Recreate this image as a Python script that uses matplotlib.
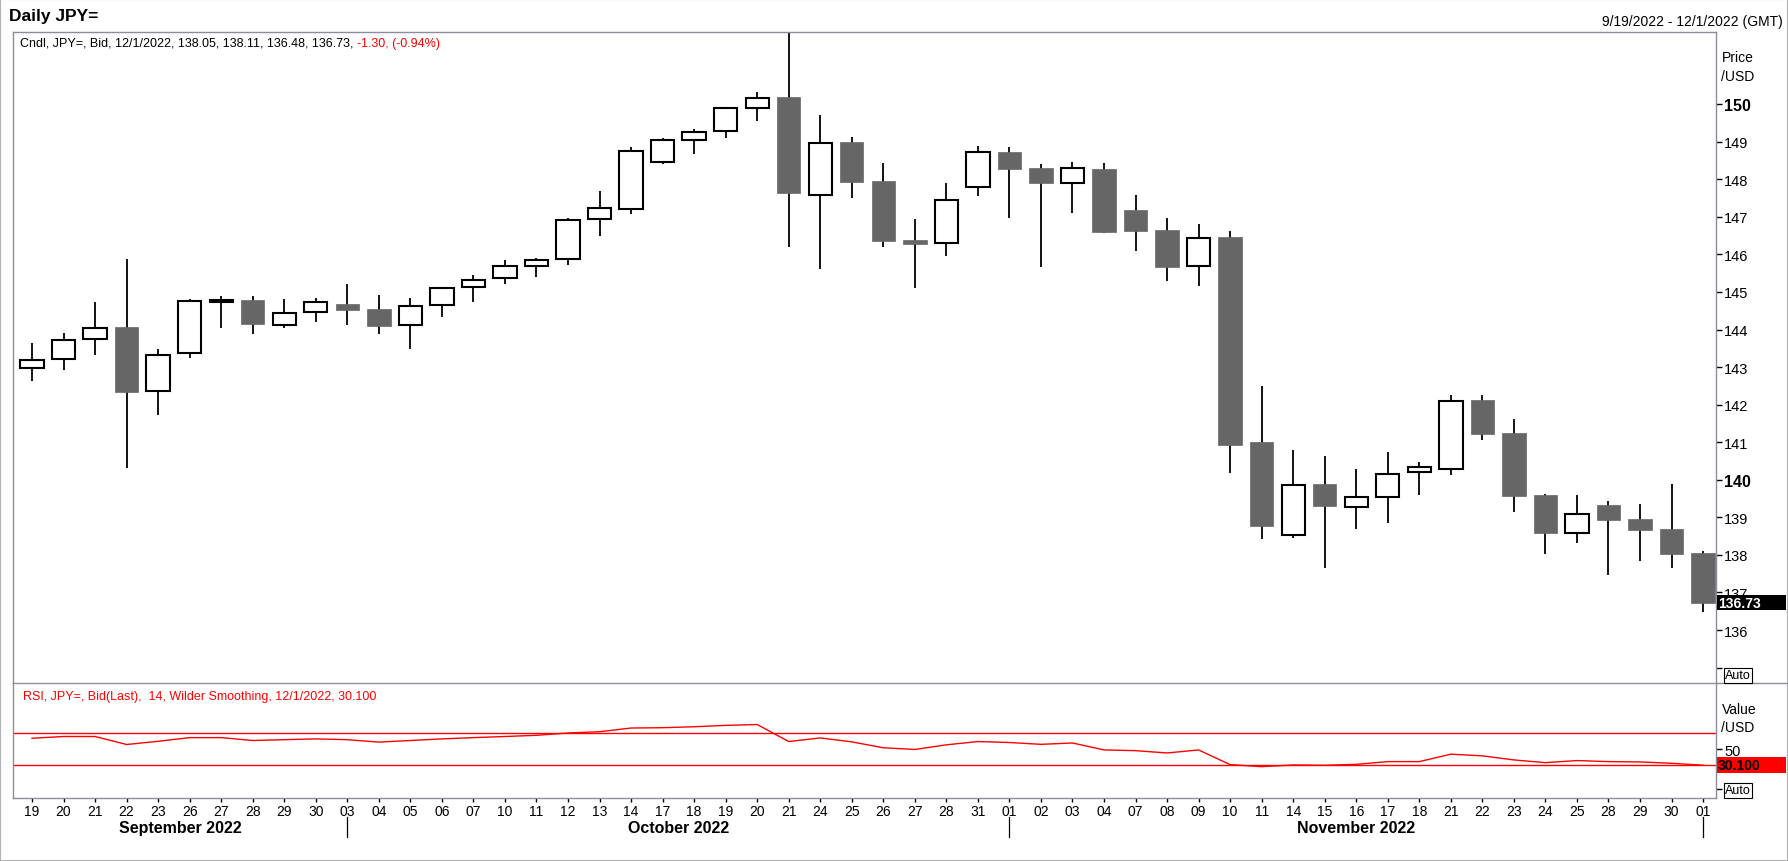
import matplotlib
matplotlib.use("Agg")
import numpy as np
import pandas as pd
import matplotlib.pyplot as plt
from matplotlib import transforms
from matplotlib.patches import Rectangle
from matplotlib.lines import Line2D

plt.rcParams['font.family'] = ['Liberation Sans', 'DejaVu Sans']

# ---------------- data ----------------
dates = ['2022-09-19', '2022-09-20', '2022-09-21', '2022-09-22', '2022-09-23',
         '2022-09-26', '2022-09-27', '2022-09-28', '2022-09-29', '2022-09-30',
         '2022-10-03', '2022-10-04', '2022-10-05', '2022-10-06', '2022-10-07',
         '2022-10-10', '2022-10-11', '2022-10-12', '2022-10-13', '2022-10-14',
         '2022-10-17', '2022-10-18', '2022-10-19', '2022-10-20', '2022-10-21',
         '2022-10-24', '2022-10-25', '2022-10-26', '2022-10-27', '2022-10-28',
         '2022-10-31', '2022-11-01', '2022-11-02', '2022-11-03', '2022-11-04',
         '2022-11-07', '2022-11-08', '2022-11-09', '2022-11-10', '2022-11-11',
         '2022-11-14', '2022-11-15', '2022-11-16', '2022-11-17', '2022-11-18',
         '2022-11-21', '2022-11-22', '2022-11-23', '2022-11-24', '2022-11-25',
         '2022-11-28', '2022-11-29', '2022-11-30', '2022-12-01']

opens = [142.98, 143.21, 143.74, 144.06, 142.35, 143.37, 144.74, 144.78, 144.13, 144.46,
         144.67, 144.54, 144.11, 144.65, 145.12, 145.37, 145.69, 145.87, 146.94, 147.20,
         148.46, 149.04, 149.28, 149.89, 150.19, 147.58, 148.99, 147.95, 146.37, 146.30,
         147.79, 148.72, 148.30, 147.90, 148.27, 147.18, 146.64, 145.69, 146.47, 141.01,
         138.52, 139.88, 139.28, 139.54, 140.20, 140.28, 142.12, 141.24, 139.59, 138.59,
         139.32, 138.95, 138.68, 138.05]
highs = [143.65, 143.92, 144.72, 145.89, 143.47, 144.80, 144.90, 144.88, 144.80, 144.83,
         145.21, 144.93, 144.85, 145.14, 145.44, 145.86, 145.90, 146.97, 147.68, 148.87,
         149.11, 149.35, 149.91, 150.31, 151.94, 149.72, 149.12, 148.43, 146.94, 147.90,
         148.88, 148.85, 148.40, 148.46, 148.43, 147.58, 146.96, 146.80, 146.63, 142.49,
         140.79, 140.63, 140.28, 140.73, 140.48, 142.25, 142.25, 141.61, 139.63, 139.59,
         139.43, 139.35, 139.88, 138.11]
lows = [142.63, 142.93, 143.32, 140.32, 141.73, 143.24, 144.04, 143.88, 144.04, 144.19,
        144.12, 143.88, 143.49, 144.34, 144.72, 145.21, 145.41, 145.72, 146.48, 147.08,
        148.41, 148.68, 149.10, 149.56, 146.20, 145.61, 147.51, 146.20, 145.11, 145.96,
        147.56, 146.97, 145.67, 147.11, 146.56, 146.09, 145.30, 145.16, 140.18, 138.43,
        138.46, 137.66, 138.70, 138.85, 139.60, 140.13, 141.06, 139.14, 138.02, 138.32,
        137.47, 137.84, 137.64, 136.48]
closes = [143.19, 143.73, 144.04, 142.34, 143.32, 144.75, 144.78, 144.15, 144.45, 144.74,
          144.53, 144.10, 144.63, 145.11, 145.32, 145.69, 145.85, 146.92, 147.24, 148.76,
          149.05, 149.26, 149.90, 150.17, 147.64, 148.97, 147.93, 146.36, 146.28, 147.45,
          148.73, 148.28, 147.91, 148.29, 146.60, 146.63, 145.67, 146.44, 140.93, 138.77,
          139.87, 139.29, 139.54, 140.16, 140.34, 142.10, 141.22, 139.57, 138.58, 139.10,
          138.93, 138.66, 138.03, 136.73]
rsi = [63.8, 66.0, 66.0, 56.0, 60.0, 64.6, 64.6, 61.0, 62.0, 63.0,
       62.0, 59.0, 61.0, 63.0, 64.6, 66.0, 67.5, 70.4, 72.0, 76.6,
       77.0, 78.2, 79.9, 81.0, 59.7, 64.2, 59.3, 51.9, 49.8, 55.6,
       59.7, 58.5, 56.2, 57.9, 49.2, 48.3, 45.4, 49.2, 30.8, 28.3,
       30.4, 30.0, 31.2, 34.6, 34.6, 43.9, 41.8, 36.7, 33.3, 35.9,
       34.6, 34.2, 32.5, 30.1]
price_ticks = list(range(135, 151))
bold_ticks = [140, 150]
rsi_levels = [70, 30]

# ---------------- layout helpers ----------------
W, H = 1788, 862
fig = plt.figure(figsize=(W / 100, H / 100), dpi=100)
fig.patch.set_facecolor('white')


def fx(px):
    return px / W


def fy(py):
    return 1 - py / H


def box(l, t, r, b):
    return [l / W, 1 - b / H, (r - l) / W, (b - t) / H]


FRAME = '#8c8c9c'
RED = '#ff0000'
DARK = '#666666'

ax = fig.add_axes(box(13, 33, 1716, 684))
ax2 = fig.add_axes(box(13, 684, 1716, 799))

o = np.array(opens)
h = np.array(highs)
l = np.array(lows)
c = np.array(closes)
x = np.arange(len(dates))
up = c >= o

# ---------------- candles ----------------
ax.vlines(x, l, h, color='black', lw=1.3, zorder=1)
bottoms = np.minimum(o, c)
heights = np.maximum(np.abs(c - o), 0.03)
faces = ['white' if u else DARK for u in up]
edges = ['black' if u else DARK for u in up]
lws = [1.5 if u else 0.5 for u in up]
ax.bar(x, heights, bottom=bottoms, width=0.74, color=faces, edgecolor=edges,
       linewidth=lws, zorder=2)

xlim = (-0.603, 53.41)
ax.set_xlim(*xlim)
ax.set_ylim(134.59, 151.92)
ax.set_xticks([])
ax.yaxis.tick_right()
ax.set_yticks(price_ticks)
ax.set_yticklabels(['' if v == 135 else str(v) for v in price_ticks])
ax.tick_params(axis='y', length=4, width=1, pad=2, labelsize=10.5, colors='black')
for lab, v in zip(ax.get_yticklabels(), price_ticks):
    if v in bold_ticks:
        lab.set_fontweight('bold')
        lab.set_fontsize(11.5)
for s in ax.spines.values():
    s.set_color(FRAME)
    s.set_linewidth(1)
ax.spines['bottom'].set_visible(False)

# ---------------- RSI ----------------
ax2.plot(x, rsi, color=RED, lw=1)
for lv in rsi_levels:
    ax2.axhline(lv, color=RED, lw=1)
ax2.set_xlim(*xlim)
ax2.set_ylim(-10.9, 132.9)
ax2.yaxis.tick_right()
ax2.set_yticks([0, 50])
ax2.set_yticklabels(['', '50'])
ax2.tick_params(axis='y', length=4, width=1, pad=2, labelsize=10.5, colors='black')
dts = pd.to_datetime(dates)
ax2.set_xticks(x)
ax2.set_xticklabels([d.strftime('%d') for d in dts])
ax2.tick_params(axis='x', length=3, width=1, pad=1.5, labelsize=10, colors='black')
for s in ax2.spines.values():
    s.set_color(FRAME)
    s.set_linewidth(1)
ax2.spines['top'].set_visible(False)

# month labels and separators
months = dts.to_period('M')
starts = [i for i in range(len(dts)) if i == 0 or months[i] != months[i - 1]]
bounds = [xlim[0]] + starts[1:] + [xlim[1]]
trans = transforms.blended_transform_factory(ax2.transData, fig.transFigure)
for k, si in enumerate(starts):
    if k + 1 < len(starts):
        center = (bounds[k] + bounds[k + 1]) / 2
        fig.text(center, fy(829), dts[si].strftime('%B %Y'), transform=trans,
                 ha='center', va='center', fontsize=11.5, fontweight='bold')
    if si > 0:
        fig.add_artist(Line2D([si, si], [fy(818), fy(838)], transform=trans,
                              color='black', lw=0.9))

# ---------------- frame lines ----------------
fig.add_artist(Line2D([fx(13), 1], [fy(684), fy(684)], transform=fig.transFigure,
                      color=FRAME, lw=1))
fig.add_artist(Rectangle((0, 0), 1, 1, fill=False, ec='#b0b0b0', lw=1.5,
                         transform=fig.transFigure))

# ---------------- texts ----------------
fig.text(fx(9), fy(17), 'Daily JPY=', fontsize=12.5, fontweight='bold',
         ha='left', va='center')
fig.text(fx(1783), fy(22), '9/19/2022 - 12/1/2022 (GMT)', fontsize=10,
         ha='right', va='center')
chg = c[-1] - c[-2]
pct = chg / c[-2] * 100
t1 = fig.text(fx(20), fy(44),
              f"Cndl, JPY=, Bid, {dts[-1].month}/{dts[-1].day}/{dts[-1].year}, "
              f"{o[-1]:.2f}, {h[-1]:.2f}, {l[-1]:.2f}, {c[-1]:.2f},",
              fontsize=9, ha='left', va='center')
ax.annotate(f"{chg:.2f}, ({pct:.2f}%)", xy=(1, 0.5), xycoords=t1,
            xytext=(4, 0), textcoords='offset pixels', color=RED, fontsize=9,
            ha='left', va='center')
fig.text(fx(23), fy(697),
         f"RSI, JPY=, Bid(Last),  14, Wilder Smoothing, "
         f"{dts[-1].month}/{dts[-1].day}/{dts[-1].year}, {rsi[-1]:.3f}",
         color=RED, fontsize=9, ha='left', va='center')

fig.text(fx(1722), fy(58), 'Price', fontsize=10, ha='left', va='center')
fig.text(fx(1721), fy(77), '/USD', fontsize=10, ha='left', va='center')
fig.text(fx(1722), fy(710), 'Value', fontsize=10, ha='left', va='center')
fig.text(fx(1721), fy(728), '/USD', fontsize=10, ha='left', va='center')

for yy in (676, 791):
    fig.text(fx(1725), fy(yy), 'Auto', fontsize=9, ha='left', va='center',
             bbox=dict(boxstyle='square,pad=0.12', fc='white', ec='black', lw=0.8))

# last price box
tp = transforms.blended_transform_factory(fig.transFigure, ax.transData)
hp = 15 / 37.57
fig.add_artist(Rectangle((fx(1717), c[-1] - hp / 2), fx(69), hp, transform=tp,
                         fc='black', ec='none'))
fig.text(fx(1718), c[-1], f"{c[-1]:.2f}", transform=tp, color='white',
         fontsize=10, fontweight='bold', ha='left', va='center')

# last RSI box
tr = transforms.blended_transform_factory(fig.transFigure, ax2.transData)
hr = 16 / 0.8
fig.add_artist(Rectangle((fx(1717), rsi[-1] - hr / 2), fx(69), hr, transform=tr,
                         fc=RED, ec='none'))
fig.text(fx(1718), rsi[-1], f"{rsi[-1]:.3f}", transform=tr, color='black',
         fontsize=10, fontweight='bold', ha='left', va='center')

fig.savefig('out.png', dpi=100, facecolor='white')
